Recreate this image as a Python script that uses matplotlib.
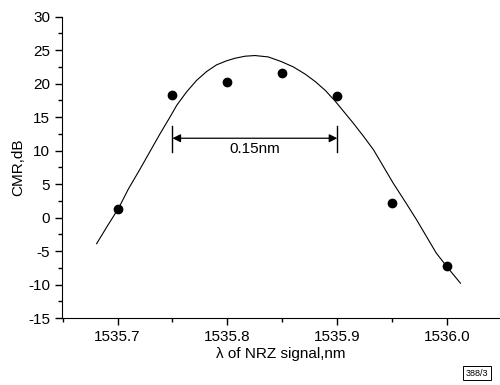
import matplotlib
matplotlib.use("Agg")
import matplotlib.pyplot as plt
from matplotlib.ticker import MultipleLocator

plt.rcParams['font.family'] = ['Liberation Sans', 'DejaVu Sans']
plt.rcParams['axes.unicode_minus'] = False

# measured points (wavelength, CMR)
wavelength = [1535.70, 1535.75, 1535.80, 1535.85, 1535.90, 1535.95, 1536.00]
cmr = [1.3, 18.3, 20.3, 21.6, 18.2, 2.2, -7.2]

# fitted curve
fit_wl = [1535.681, 1535.691, 1535.701, 1535.710, 1535.720, 1535.730, 1535.739,
          1535.747, 1535.754, 1535.763, 1535.772, 1535.781, 1535.790, 1535.799,
          1535.807, 1535.816, 1535.825, 1535.837, 1535.849, 1535.860, 1535.871,
          1535.880, 1535.889, 1535.898, 1535.906, 1535.915, 1535.924, 1535.933,
          1535.942, 1535.951, 1535.962, 1535.972, 1535.981, 1535.990, 1536.001,
          1536.012]
fit_cmr = [-3.9, -1.2, 1.4, 4.3, 7.1, 10.0, 12.6,
           14.8, 16.8, 18.8, 20.5, 21.8, 22.8, 23.4,
           23.8, 24.1, 24.2, 24.0, 23.3, 22.5, 21.4,
           20.3, 19.0, 17.4, 15.8, 14.0, 12.1, 10.1,
           7.6, 5.1, 2.3, -0.3, -2.8, -5.3, -7.6,
           -9.8]

bw_start, bw_end = 1535.75, 1535.90
bw_label = '0.15nm'

fig = plt.figure(figsize=(5, 3.85), dpi=100)
ax = fig.add_axes([0.124, 0.174, 0.876, 0.7826])

ax.plot(fit_wl, fit_cmr, color='black', lw=0.8)
ax.plot(wavelength, cmr, 'o', color='black', ms=6)

# bandwidth marker
ax.annotate('', xy=(bw_start, 11.85), xytext=(bw_end, 11.85),
            arrowprops=dict(arrowstyle='<|-|>', color='black', lw=0.9,
                            mutation_scale=12, shrinkA=0, shrinkB=0))
ax.plot([bw_start, bw_start], [9.8, 13.7], color='black', lw=1)
ax.plot([bw_end, bw_end], [9.8, 13.7], color='black', lw=1)
ax.text((bw_start + bw_end) / 2, 10.3, bw_label, ha='center', va='center', fontsize=11)

ax.set_xlim(1535.6495, 1536.048)
ax.set_ylim(-15, 30)
ax.xaxis.set_major_locator(MultipleLocator(0.1))
ax.xaxis.set_minor_locator(MultipleLocator(0.05))
ax.yaxis.set_major_locator(MultipleLocator(5))
ax.yaxis.set_minor_locator(MultipleLocator(2.5))
ax.xaxis.set_major_formatter(plt.FuncFormatter(lambda v, p: '%.1f' % v))
ax.tick_params(which='major', length=5, width=1, labelsize=11, direction='out')
ax.tick_params(which='minor', length=3, width=1, direction='out')

ax.spines['top'].set_visible(False)
ax.spines['right'].set_visible(False)

ax.set_xlabel('\u03bb of NRZ signal,nm', fontsize=11, labelpad=2)
ax.set_ylabel('CMR,dB', fontsize=11, labelpad=2)

fig.text(0.954, 0.031, '388/3', fontsize=6.5, ha='center', va='center',
         bbox=dict(boxstyle='square,pad=0.25', fc='white', ec='black', lw=0.7))

fig.savefig('out.png', dpi=100)
